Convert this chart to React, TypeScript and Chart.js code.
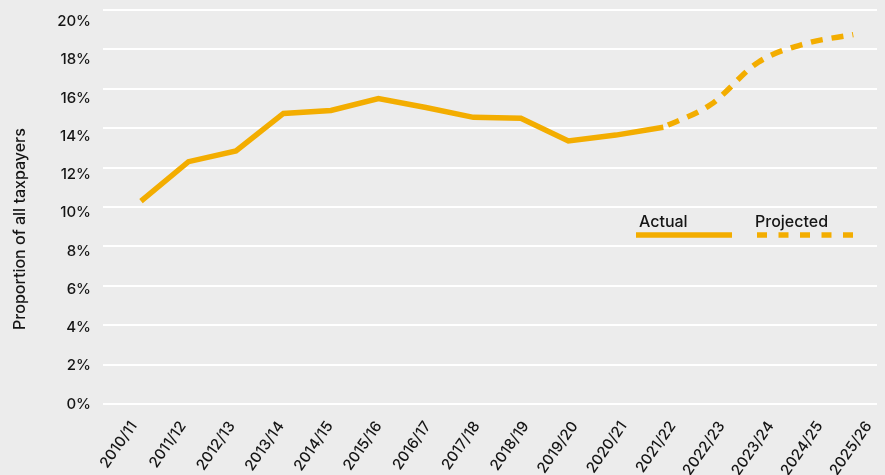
import React, { useEffect, useRef } from "react";
import { Chart, registerables } from "chart.js";

Chart.register(...registerables);

const categories = [
  "2010/11", "2011/12", "2012/13", "2013/14", "2014/15", "2015/16", "2016/17", "2017/18",
  "2018/19", "2019/20", "2020/21", "2021/22", "2022/23", "2023/24", "2024/25", "2025/26",
];
const actualValues: (number | null)[] = [
  10.3, 12.3, 12.85, 14.75, 14.9, 15.5, 15.05, 14.55, 14.5, 13.35, 13.65, 14.05,
  null, null, null, null,
];
const projectedValues: (number | null)[] = [
  null, null, null, null, null, null, null, null, null, null, null, 14.05,
  15.2, 17.35, 18.3, 18.75,
];
const yTickValues = [0, 2, 4, 6, 8, 10, 12, 14, 16, 18, 20];
const seriesNames = ["Actual", "Projected"];
const yAxisTitle = "Proportion of all taxpayers";

const LINE_COLOR = "#f3ad00";
const BG = "#ececec";
const TEXT = "#151515";
const FONT = "Inter, 'Noto Sans', sans-serif";

export default function App() {
  const ref = useRef<HTMLCanvasElement | null>(null);

  useEffect(() => {
    if (!ref.current) return;

    const toPoints = (arr: (number | null)[]) =>
      arr
        .map((v, i) => (v == null ? null : { x: i, y: v }))
        .filter((p) => p !== null) as { x: number; y: number }[];

    const overlay = {
      id: "overlay",
      afterDraw(chart: any) {
        const ctx = chart.ctx as CanvasRenderingContext2D;
        ctx.save();
        // y axis title
        ctx.fillStyle = TEXT;
        ctx.font = `500 16px ${FONT}`;
        ctx.textAlign = "center";
        ctx.textBaseline = "middle";
        ctx.translate(20, 229);
        ctx.rotate(-Math.PI / 2);
        ctx.fillText(yAxisTitle, 0, 0);
        ctx.restore();

        // legend
        ctx.save();
        ctx.fillStyle = TEXT;
        ctx.font = `500 16px ${FONT}`;
        ctx.textAlign = "left";
        ctx.textBaseline = "alphabetic";
        ctx.fillText(seriesNames[0], 639, 227);
        ctx.fillText(seriesNames[1], 755, 227);
        ctx.strokeStyle = LINE_COLOR;
        ctx.lineWidth = 5.5;
        ctx.lineCap = "butt";
        ctx.beginPath();
        ctx.moveTo(636, 235);
        ctx.lineTo(732, 235);
        ctx.stroke();
        ctx.setLineDash([10, 11.5]);
        ctx.beginPath();
        ctx.moveTo(757, 235);
        ctx.lineTo(854, 235);
        ctx.stroke();
        ctx.restore();
      },
    };

    const chart = new Chart(ref.current, {
      type: "line",
      data: {
        datasets: [
          {
            label: seriesNames[0],
            data: toPoints(actualValues),
            borderColor: LINE_COLOR,
            backgroundColor: LINE_COLOR,
            borderWidth: 5.5,
            pointRadius: 0,
            tension: 0,
            xAxisID: "x",
            yAxisID: "y",
          },
          {
            label: seriesNames[1],
            data: toPoints(projectedValues),
            borderColor: LINE_COLOR,
            backgroundColor: LINE_COLOR,
            borderWidth: 5.5,
            borderDash: [12, 9],
            borderDashOffset: 16,
            borderCapStyle: "butt",
            pointRadius: 0,
            cubicInterpolationMode: "monotone",
            xAxisID: "x",
            yAxisID: "y",
          },
        ],
      },
      options: {
        animation: false,
        responsive: false,
        devicePixelRatio: 1,
        layout: { padding: { top: 10, right: 8, left: 0, bottom: 0 } },
        plugins: {
          legend: { display: false },
          tooltip: { enabled: false },
        },
        scales: {
          x: {
            type: "linear",
            display: false,
            min: -0.8,
            max: 15.5,
          },
          xl: {
            type: "linear",
            position: "bottom",
            min: -0.63,
            max: 15.17,
            grid: { display: false, drawTicks: false },
            border: { display: false },
            afterBuildTicks(scale: any) {
              scale.ticks = categories.map((_, i) => ({ value: i }));
            },
            afterFit(scale: any) {
              scale.height = 71;
              scale.paddingLeft = 0;
              scale.paddingRight = 0;
            },
            ticks: {
              autoSkip: false,
              maxRotation: 55,
              minRotation: 55,
              padding: 14,
              color: TEXT,
              font: { family: FONT, size: 15, weight: "500" },
              callback: (v: any) => categories[v as number] ?? "",
            },
          },
          y: {
            type: "linear",
            position: "left",
            min: 0,
            max: 20,
            afterBuildTicks(scale: any) {
              scale.ticks = yTickValues.map((v) => ({ value: v }));
            },
            afterFit(scale: any) {
              scale.width = 0;
              scale.paddingTop = 0;
              scale.paddingBottom = 0;
            },
            grid: { color: "#ffffff", lineWidth: 2, drawTicks: false },
            border: { display: false },
            ticks: { display: false },
          },
          yl: {
            type: "linear",
            position: "left",
            min: 0,
            max: 20.61,
            afterBuildTicks(scale: any) {
              scale.ticks = yTickValues.map((v) => ({ value: v }));
            },
            afterFit(scale: any) {
              scale.width = 103;
              scale.paddingTop = 0;
              scale.paddingBottom = 0;
            },
            grid: { display: false, drawTicks: false },
            border: { display: false },
            ticks: {
              padding: 12,
              color: TEXT,
              font: { family: FONT, size: 15, weight: "500" },
              callback: (v: any) => `${v}%`,
            },
          },
        },
      },
      plugins: [overlay],
    } as any);

    return () => chart.destroy();
  }, []);

  return (
    <div
      style={{
        position: "fixed",
        left: 0,
        top: 0,
        width: 885,
        height: 475,
        background: BG,
      }}
    >
      <canvas ref={ref} width={885} height={475} style={{ display: "block" }} />
    </div>
  );
}
